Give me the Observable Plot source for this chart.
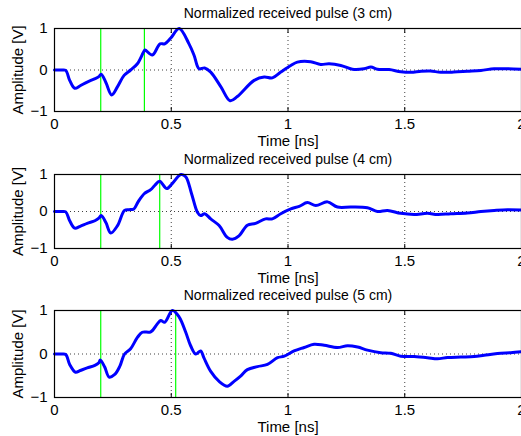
<!DOCTYPE html>
<html>
<head>
<meta charset="utf-8">
<script src="https://cdn.jsdelivr.net/npm/d3@7"></script>
<script src="https://cdn.jsdelivr.net/npm/@observablehq/plot@0.6"></script>
<style>
  html, body { margin: 0; padding: 0; background: #fff; }
  #wrap { position: relative; width: 521px; height: 436px; overflow: hidden; background: #fff; }
  #wrap svg { position: absolute; left: 0; background: transparent; overflow: visible; }
</style>
</head>
<body>
<div id="wrap"></div>
<script>
// ---- data ----
const titles = ["Normalized received pulse (3 cm)", "Normalized received pulse (4 cm)", "Normalized received pulse (5 cm)"];
const xLabel = "Time [ns]";
const yLabel = "Amplitude [V]";
const xTicks = [0, 0.5, 1, 1.5, 2];
const yTicks = [-1, 0, 1];

const t3 = [0, 0.03, 0.048, 0.065, 0.0865, 0.11, 0.14, 0.169, 0.19, 0.2, 0.22, 0.245, 0.27, 0.298, 0.326, 0.355, 0.384, 0.388, 0.419, 0.452, 0.472, 0.498, 0.534, 0.576, 0.598, 0.619, 0.643, 0.669, 0.712, 0.752, 0.783, 0.855, 0.898, 0.933, 0.969, 1.012, 1.04, 1.097, 1.14, 1.176, 1.226, 1.276, 1.326, 1.355, 1.383, 1.433, 1.483, 1.526, 1.57, 1.61, 1.654, 1.71, 1.768, 1.826, 1.883, 1.94, 2.0];
const v3 = [0, 0, -0.01, -0.25, -0.44, -0.38, -0.29, -0.22, -0.16, -0.10, -0.3, -0.60, -0.40, -0.13, 0, 0.15, 0.46, 0.48, 0.36, 0.63, 0.63, 0.77, 1.0, 0.63, 0.35, 0.03, 0.05, -0.05, -0.40, -0.74, -0.64, -0.25, -0.17, -0.19, -0.05, 0.11, 0.19, 0.20, 0.135, 0.15, 0.11, 0.02, 0.03, 0.07, 0.02, 0.01, -0.04, -0.055, -0.03, -0.025, -0.055, -0.05, -0.03, -0.01, 0.03, 0.03, 0.02];
const marks3 = [0.198, 0.385];

const t4 = [0, 0.03, 0.048, 0.065, 0.0865, 0.11, 0.14, 0.173, 0.19, 0.2, 0.22, 0.241, 0.27, 0.30, 0.319, 0.34, 0.358, 0.384, 0.412, 0.43, 0.45, 0.481, 0.505, 0.541, 0.562, 0.587, 0.612, 0.626, 0.643, 0.669, 0.705, 0.74, 0.762, 0.79, 0.826, 0.861, 0.904, 0.933, 0.969, 1.012, 1.048, 1.083, 1.119, 1.169, 1.212, 1.27, 1.34, 1.383, 1.426, 1.483, 1.54, 1.597, 1.64, 1.697, 1.768, 1.826, 1.883, 1.94, 2.0];
const v4 = [0, 0, -0.01, -0.25, -0.45, -0.40, -0.32, -0.25, -0.18, -0.11, -0.3, -0.58, -0.38, 0.03, 0.05, 0.07, 0.26, 0.48, 0.59, 0.71, 0.82, 0.62, 0.76, 1.0, 0.94, 0.48, -0.02, -0.11, -0.06, -0.20, -0.38, -0.70, -0.75, -0.66, -0.37, -0.32, -0.20, -0.20, -0.06, 0.07, 0.14, 0.24, 0.16, 0.26, 0.12, 0.12, 0.10, 0, 0.03, -0.05, -0.08, -0.05, -0.08, -0.06, -0.04, 0, 0.03, 0.05, 0.04];
const marks4 = [0.198, 0.4506];

const t5 = [0, 0.03, 0.048, 0.065, 0.09, 0.11, 0.14, 0.173, 0.19, 0.196, 0.215, 0.234, 0.258, 0.28, 0.30, 0.326, 0.355, 0.376, 0.412, 0.44, 0.455, 0.472, 0.505, 0.534, 0.562, 0.583, 0.605, 0.626, 0.64, 0.669, 0.705, 0.74, 0.769, 0.797, 0.826, 0.869, 0.912, 0.955, 0.984, 1.026, 1.069, 1.112, 1.155, 1.212, 1.255, 1.298, 1.34, 1.397, 1.44, 1.483, 1.54, 1.597, 1.64, 1.683, 1.74, 1.797, 1.84, 1.897, 1.954, 2.0];
const v5 = [0, 0, -0.01, -0.24, -0.42, -0.38, -0.32, -0.26, -0.2, -0.14, -0.3, -0.53, -0.47, -0.28, 0, 0.12, 0.38, 0.50, 0.51, 0.69, 0.77, 0.73, 1.0, 0.85, 0.50, 0.19, 0, 0.07, -0.09, -0.40, -0.63, -0.74, -0.63, -0.51, -0.36, -0.29, -0.24, -0.085, -0.05, 0.07, 0.15, 0.225, 0.20, 0.15, 0.19, 0.16, 0.09, 0.03, 0.015, -0.05, -0.06, -0.085, -0.11, -0.08, -0.07, -0.06, -0.03, 0.01, 0.03, 0.05];
const marks5 = [0.198, 0.519];

// ---- layout ----
const panels = [
  {title: titles[0], t: t3, v: v3, marks: marks3, top: 28, frameH: 83},
  {title: titles[1], t: t4, v: v4, marks: marks4, top: 174, frameH: 74},
  {title: titles[2], t: t5, v: v5, marks: marks5, top: 310, frameH: 87}
];

const FONT = "'Liberation Sans', Arial, Helvetica, sans-serif";
const MT = 28, MB = 40, ML = 54;
const wrap = document.getElementById("wrap");
const blank = () => "";

for (const p of panels) {
  const data = p.t.map((t, i) => ({t, v: p.v[i]}));
  const H = p.frameH;
  const chart = Plot.plot({
    width: 521,
    height: MT + H + MB,
    marginTop: MT, marginBottom: MB, marginLeft: ML, marginRight: 0,
    style: {fontFamily: FONT, fontSize: "14px", color: "#000", background: "transparent"},
    x: {domain: [0, 2]},
    y: {domain: [-1, 1]},
    marks: [
      Plot.gridX([0.5, 1, 1.5], {stroke: "#000", strokeOpacity: 0.75, strokeDasharray: "1,3"}),
      Plot.gridY([0], {stroke: "#000", strokeOpacity: 0.75, strokeDasharray: "1,3"}),
      // inward ticks (MATLAB style)
      Plot.axisX(xTicks, {anchor: "bottom", tickSize: -4, tickFormat: blank, label: null}),
      Plot.axisX(xTicks, {anchor: "top", tickSize: -4, tickFormat: blank, label: null}),
      Plot.axisY(yTicks, {anchor: "left", tickSize: -4, tickFormat: blank, label: null}),
      Plot.ruleX(p.marks, {x: d => d, stroke: "#00ff00", strokeWidth: 1.2}),
      Plot.line(data, {x: "t", y: "v", stroke: "#0000ff", strokeWidth: 3, curve: "catmull-rom"}),
      Plot.frame({stroke: "#000", strokeWidth: 1.2}),
      Plot.axisX(xTicks, {tickSize: 0, tickPadding: 7, fontSize: 15, tickFormat: d => String(d),
        label: xLabel, labelAnchor: "center", labelArrow: "none", labelOffset: 34}),
      Plot.axisY(yTicks, {tickSize: 0, tickPadding: 7, fontSize: 15,
        label: yLabel, labelAnchor: "center", labelArrow: "none", labelOffset: 42}),
      Plot.text([p.title], {frameAnchor: "top", dy: -15, fontSize: 14, lineAnchor: "middle", fill: "#000"})
    ]
  });
  chart.style.top = (p.top - MT) + "px";
  wrap.appendChild(chart);
}
</script>
</body>
</html>
